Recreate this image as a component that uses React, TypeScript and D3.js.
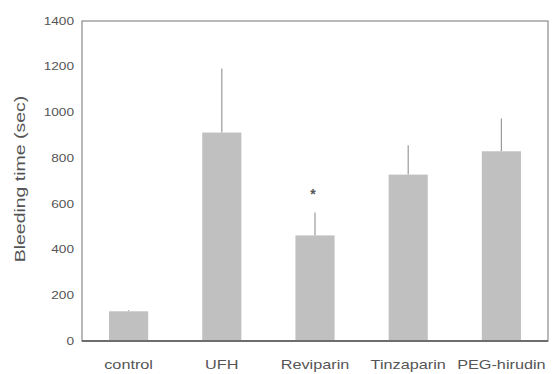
import React from 'react';
import * as d3 from 'd3';

const categories = ['control', 'UFH', 'Reviparin', 'Tinzaparin', 'PEG-hirudin'];
const means = [130, 912, 462, 728, 830];
const errors = [5, 280, 100, 128, 143];
const marks = ['', '', '*', '', ''];
const yTicks = [0, 200, 400, 600, 800, 1000, 1200, 1400];

const W = 555;
const H = 374;
const margin = { top: 21, right: 7, bottom: 33, left: 82 };

export default function App() {
  const innerW = W - margin.left - margin.right;
  const innerH = H - margin.top - margin.bottom;

  const x = d3.scaleBand<string>().domain(categories).range([0, innerW]).paddingInner(0.58).paddingOuter(0.29);
  const y = d3.scaleLinear().domain([0, 1400]).range([innerH, 0]);

  const font = 'Arial, "Liberation Sans", sans-serif';

  return (
    <svg width={W} height={H} style={{ position: 'absolute', left: 0, top: 0 }}>
      <rect width={W} height={H} fill="#fff" />
      <g transform={`translate(${margin.left},${margin.top})`}>
        {/* frame */}
        <rect x={0} y={0} width={innerW} height={innerH} fill="none" stroke="#8a8a8a" strokeWidth={1.2} />

        {categories.map((c, i) => {
          const bx = x(c)!;
          const cx = bx + x.bandwidth() / 2;
          return (
            <g key={c}>
              <line x1={cx} x2={cx} y1={y(means[i])} y2={y(means[i] + errors[i])} stroke="#9a9a9a" strokeWidth={1.2} />
              <rect x={bx} y={y(means[i])} width={x.bandwidth()} height={innerH - y(means[i])} fill="#c0c0c0" />
              {marks[i] && (
                <text x={cx - 2} y={y(means[i] + errors[i]) - 14} fontFamily={font} fontSize={14} fontWeight="bold" fill="#555" textAnchor="middle">
                  {marks[i]}
                </text>
              )}
              <text
                transform={`translate(${cx},${innerH + 28}) scale(1.3,1)`}
                fontFamily={font}
                fontSize={12.5}
                fill="#555"
                textAnchor="middle"
              >
                {c}
              </text>
            </g>
          );
        })}

        {/* bottom axis */}
        <line x1={0} x2={innerW} y1={innerH} y2={innerH} stroke="#555" strokeWidth={1.5} />

        {yTicks.map(t => (
          <text
            key={t}
            transform={`translate(-8,${y(t)}) scale(1.3,1)`}
            dy="0.35em"
            fontFamily={font}
            fontSize={10.5}
            fill="#555"
            textAnchor="end"
          >
            {t}
          </text>
        ))}

        <text
          transform={`translate(${-57},${innerH / 2 - 2}) rotate(-90) scale(1.3,1)`}
          fontFamily={font}
          fontSize={15}
          fill="#555"
          textAnchor="middle"
        >
          Bleeding time (sec)
        </text>
      </g>
    </svg>
  );
}
